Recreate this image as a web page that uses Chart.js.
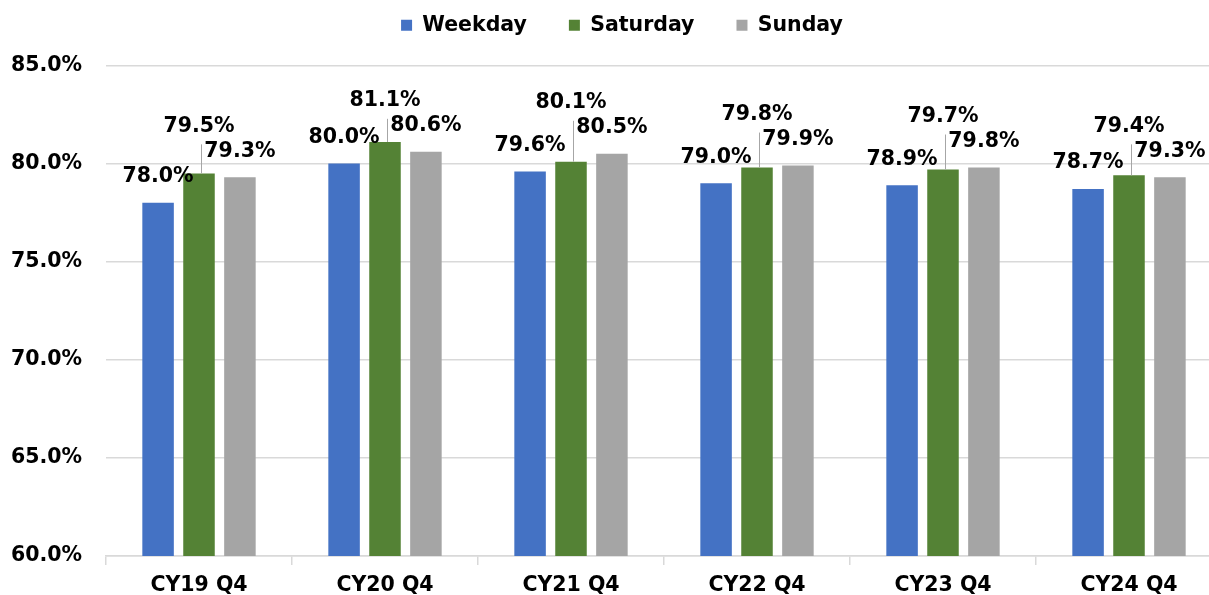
<!DOCTYPE html>
<html>
<head>
<meta charset="utf-8">
<script src="https://cdn.jsdelivr.net/npm/chart.js@4/dist/chart.umd.min.js"></script>
<style>
html, body { margin: 0; padding: 0; background: #fff; overflow: hidden; }
</style>
</head>
<body>
<canvas id="chart" width="1250" height="595"></canvas>
<script>
categories = ["CY19 Q4", "CY20 Q4", "CY21 Q4", "CY22 Q4", "CY23 Q4", "CY24 Q4"];
weekday = [78.0, 80.0, 79.6, 79.0, 78.9, 78.7];
saturday = [79.5, 81.1, 80.1, 79.8, 79.7, 79.4];
sunday = [79.3, 80.6, 80.5, 79.9, 79.8, 79.3];
yTicks = [60, 65, 70, 75, 80, 85];

font = { family: '"DejaVu Sans", sans-serif', size: 20.5, weight: 'bold' };
pct = v => v.toFixed(1) + '%';

// Excel-style labels: weekday/sunday above their bars, saturday lifted with a leader line
barLabels = {
    id: 'barLabels',
    afterDatasetsDraw(chart) {
        const ctx = chart.ctx;
        const wk = chart.getDatasetMeta(0).data;
        const sa = chart.getDatasetMeta(1).data;
        const su = chart.getDatasetMeta(2).data;
        ctx.save();
        ctx.font = 'bold 20.5px "DejaVu Sans"';
        ctx.fillStyle = '#000';
        ctx.textAlign = 'center';
        ctx.textBaseline = 'middle';
        for (var i = 0; i < categories.length; i++) {
            const yWk = wk[i].y - 26;
            const ySu = su[i].y - 26;
            const ySa = Math.min(yWk, ySu) - 25;
            const lx = Math.round(sa[i].x + 1.5) + 0.5;
            ctx.strokeStyle = '#a6a6a6';
            ctx.lineWidth = 1;
            ctx.beginPath();
            ctx.moveTo(lx, ySa + 18);
            ctx.lineTo(lx, sa[i].y);
            ctx.stroke();
            ctx.fillText(pct(weekday[i]), wk[i].x, yWk);
            ctx.fillText(pct(sunday[i]), su[i].x, ySu);
            ctx.fillText(pct(saturday[i]), sa[i].x, ySa);
        }
        ctx.restore();
    },
    afterInit(chart) {
        // taller legend box, and nudge the centred row a little to the right
        const fit = chart.legend.fit;
        chart.legend.fit = function () {
            fit.call(this);
            this.height += 20;
            this.lineWidths[0] -= 22;
        };
    }
};

function dataset(label, data, color) {
    return {
        label: label,
        data: data,
        backgroundColor: color,
        borderWidth: 0,
        categoryPercentage: 0.66,
        barPercentage: 0.77
    };
}

chart = new Chart(document.getElementById('chart'), {
    type: 'bar',
    data: {
        labels: categories,
        datasets: [
            dataset('Weekday', weekday, '#4472c4'),
            dataset('Saturday', saturday, '#548235'),
            dataset('Sunday', sunday, '#a5a5a5')
        ]
    },
    options: {
        responsive: false,
        animation: false,
        layout: { padding: { top: -27, left: 0, right: 28, bottom: 0 } },
        scales: {
            x: {
                afterFit: s => { s.height = 39; },
                grid: { drawOnChartArea: false, tickLength: 9, color: '#d9d9d9', lineWidth: 1.5 },
                border: { color: '#d9d9d9', width: 1.5 },
                ticks: { font: font, color: '#000', padding: 8 }
            },
            y: {
                min: 60,
                max: 85,
                afterFit: s => { s.width = 106; },
                afterBuildTicks: s => { s.ticks = yTicks.map(v => ({ value: v })); },
                grid: { drawTicks: false, color: '#d9d9d9', lineWidth: 1.5 },
                border: { display: false },
                ticks: { font: font, color: '#000', padding: 24, callback: v => pct(v) }
            }
        },
        plugins: {
            legend: {
                labels: { boxWidth: 11, boxHeight: 11, padding: 42, font: font, color: '#000' }
            },
            tooltip: { enabled: false }
        }
    },
    plugins: [barLabels]
});
</script>
</body>
</html>
